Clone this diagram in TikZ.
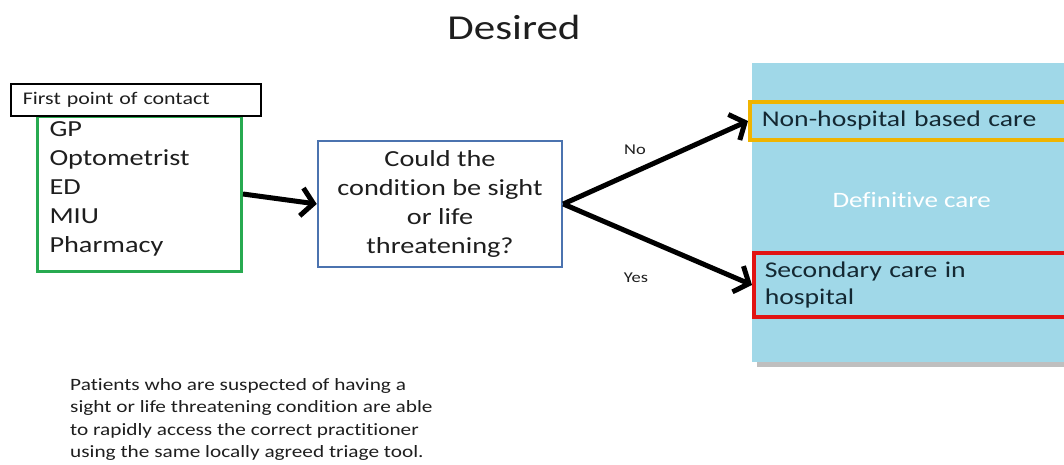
\documentclass[tikz,border=0pt]{standalone}
\usepackage{fontspec}
\setmainfont{Carlito}[FakeStretch=1.23,Ligatures=NoCommon]
\usetikzlibrary{arrows.meta}
\definecolor{gbox}{RGB}{40,170,80}
\definecolor{bbox}{RGB}{75,115,175}
\definecolor{obox}{RGB}{240,180,0}
\definecolor{rbox}{RGB}{225,20,20}
\definecolor{defblue}{RGB}{160,216,232}
\definecolor{txt}{RGB}{30,30,30}
\definecolor{dtxt}{RGB}{20,40,50}
\begin{document}
\begin{tikzpicture}[x=1pt,y=-1pt,
  arr/.style={line width=5pt,-{Straight Barb[length=12pt,width=28pt,line width=5pt]}},
  lbl/.style={font=\fontsize{15}{18}\selectfont,text=txt},
]
\useasboundingbox (0,0) rectangle (1064,465);
\clip (0,0) rectangle (1064,465);
% title
\node (title) at (514,27) {\fontsize{35}{40}\selectfont\color{txt}Desired};
% definitive care
\fill[black!25] (757,68) rectangle (1075,367);
\node (def) [fill=defblue, anchor=north west, minimum width=323pt, minimum height=299pt, inner sep=0pt,
  label={[font=\fontsize{22}{26}\selectfont, text=white, yshift=13pt, xshift=-2pt]center:Definitive care}]
  at (752,63) {};
\node (non) [draw=obox, line width=3.5pt, anchor=west, text width=300pt, align=left, inner xsep=12pt,
  minimum height=38pt, font=\fontsize{22.5}{26}\selectfont, text=dtxt] at (748,121) {Non-hospital based care};
\node (sec) [draw=rbox, line width=3.5pt, anchor=west, text width=300pt, align=left, inner xsep=11pt,
  minimum height=64pt, font=\fontsize{22.5}{27}\selectfont, text=dtxt] at (752,285) {Secondary care in\\hospital};
% first contact
\node (grn) [draw=gbox, line width=3pt, anchor=north west, minimum width=204pt, minimum height=155pt,
  text width=180pt, align=left, inner xsep=10pt, font=\fontsize{23}{29}\selectfont, text=txt]
  at (36,115) {\raisebox{0pt}{}\\[-25pt]GP\\Optometrist\\ED\\MIU\\Pharmacy};
\node (fpc) [draw=black, line width=1.8pt, fill=white, anchor=north west, minimum width=250pt, minimum height=32pt,
  text width=226pt, align=left, inner xsep=12pt, font=\fontsize{17.8}{20}\selectfont, text=txt]
  at (10,83) {First point of contact};
% question
\node (q) [draw=bbox, line width=2.5pt, minimum width=244pt, minimum height=126pt, align=center,
  font=\fontsize{23}{29}\selectfont, text=txt] at (440,204)
  {Could the\\condition be sight\\or life\\threatening?};
% arrows
\draw[arr] (grn.east) -- (q.west);
\draw[arr] (q.east) -- (non.west);
\draw[arr] (q.east) -- (sec.west);
\node (no) [lbl] at (635,150) {No};
\node (yes) [lbl] at (636,278) {Yes};
% note
\node (note) [anchor=north west, align=left, font=\fontsize{17.3}{22.5}\selectfont, text=txt, inner sep=0pt]
  at (70,378) {Patients who are suspected of having a\\sight or life threatening condition are able\\to rapidly access the correct practitioner\\using the same locally agreed triage tool.};
\end{tikzpicture}
\end{document}
